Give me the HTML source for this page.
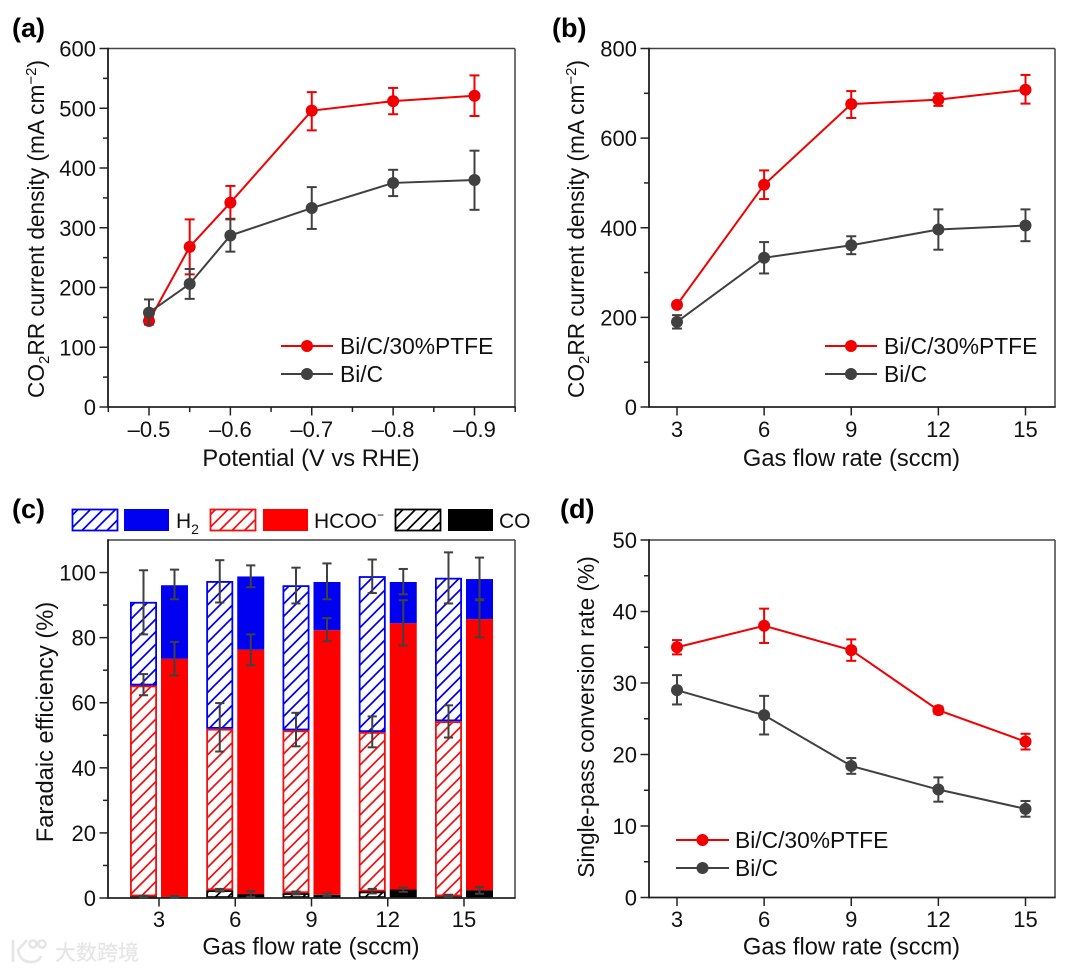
<!DOCTYPE html>
<html lang="en">
<head>
<meta charset="utf-8">
<title>CO2RR performance of Bi/C and Bi/C/30%PTFE</title>
<style>
html,body{margin:0;padding:0;background:#fff;width:1080px;height:972px;overflow:hidden}
svg{display:block;filter:blur(0.35px)}
text{font-family:"Liberation Sans","Noto Sans CJK SC",sans-serif;fill:#111}
.tick{font-size:22px}
.title{font-size:22.7px}
.xtitle{font-size:23.7px}
.legend{font-size:22.8px}
.legend-c{font-size:21px}
.letter{font-size:27px;font-weight:bold;fill:#000}
</style>
</head>
<body>
<svg id="figure" xmlns="http://www.w3.org/2000/svg" width="1080" height="972" viewBox="0 0 1080 972">
  <defs>
    <pattern id="hatch-blue" patternUnits="userSpaceOnUse" width="12.5" height="12.5"><path d="M-3 3L3 -3M0 12.5L12.5 0M9.5 15.5L15.5 9.5" stroke="#0000f0" stroke-width="1.7" fill="none"/></pattern>
    <pattern id="hatch-red" patternUnits="userSpaceOnUse" width="12.5" height="12.5"><path d="M-3 3L3 -3M0 12.5L12.5 0M9.5 15.5L15.5 9.5" stroke="#f01010" stroke-width="1.7" fill="none"/></pattern>
    <pattern id="hatch-black" patternUnits="userSpaceOnUse" width="12.5" height="12.5"><path d="M-3 3L3 -3M0 12.5L12.5 0M9.5 15.5L15.5 9.5" stroke="#000" stroke-width="1.7" fill="none"/></pattern>
  </defs>
  <rect width="1080" height="972" fill="#fff"/>

  <g id="panel-a">
    <text class="letter" x="12" y="37">(a)</text>
    <text class="title" transform="translate(44,229) rotate(-90)" text-anchor="middle">CO<tspan font-size="15" dy="5">2</tspan><tspan dy="-5">RR current density (mA cm</tspan><tspan font-size="15" dy="-8">−2</tspan><tspan dy="8">)</tspan></text>
    <text class="xtitle" x="311" y="466" text-anchor="middle">Potential (V vs RHE)</text>
    <text class="legend" x="340" y="354">Bi/C/30%PTFE</text>
    <text class="legend" x="340" y="382">Bi/C</text>
  </g>

  <g id="panel-b">
    <text class="letter" x="552" y="37">(b)</text>
    <text class="title" transform="translate(584,229) rotate(-90)" text-anchor="middle">CO<tspan font-size="15" dy="5">2</tspan><tspan dy="-5">RR current density (mA cm</tspan><tspan font-size="15" dy="-8">−2</tspan><tspan dy="8">)</tspan></text>
    <text class="xtitle" x="851.5" y="466" text-anchor="middle">Gas flow rate (sccm)</text>
    <text class="legend" x="884" y="354">Bi/C/30%PTFE</text>
    <text class="legend" x="884" y="382">Bi/C</text>
  </g>

  <g id="panel-c">
    <text class="letter" x="12" y="518">(c)</text>
    <text class="xtitle" transform="translate(53,722) rotate(-90)" text-anchor="middle">Faradaic efficiency (%)</text>
    <text class="xtitle" x="311" y="954.5" text-anchor="middle">Gas flow rate (sccm)</text>
    <rect x="72.5" y="509.5" width="45" height="21" fill="url(#hatch-blue)" stroke="#0000f0" stroke-width="1.8"/>
    <rect x="124" y="509" width="45" height="22" fill="#0000f0"/>
    <text class="legend-c" x="176" y="528">H<tspan font-size="14" dy="6">2</tspan></text>
    <rect x="210.5" y="509.5" width="45" height="21" fill="url(#hatch-red)" stroke="#f01010" stroke-width="1.8"/>
    <rect x="263" y="509" width="45" height="22" fill="#ff0000"/>
    <text class="legend-c" x="314" y="528">HCOO<tspan font-size="12" dy="-9">−</tspan></text>
    <rect x="395.5" y="509.5" width="45" height="21" fill="url(#hatch-black)" stroke="#000" stroke-width="1.8"/>
    <rect x="448" y="509" width="45" height="22" fill="#000"/>
    <text class="legend-c" x="499" y="528">CO</text>
  </g>

  <g id="panel-d">
    <text class="letter" x="560" y="518">(d)</text>
    <text class="title" transform="translate(594,717) rotate(-90)" text-anchor="middle">Single-pass conversion rate (%)</text>
    <text class="xtitle" x="851.5" y="954.5" text-anchor="middle">Gas flow rate (sccm)</text>
    <text class="legend" x="735" y="848">Bi/C/30%PTFE</text>
    <text class="legend" x="735" y="876">Bi/C</text>
  </g>

  <g id="watermark">
    <g fill="none" stroke="#e6e6e6" stroke-width="2.6">
      <path d="M13 940V962M27 940L18 950Q20 962 31 962Q39 962 41 956"/>
      <circle cx="33" cy="944" r="3.6"/>
      <circle cx="42" cy="944" r="3.6"/>
    </g>
    <text x="55" y="960" font-size="21" style="fill:#e2e2e2;stroke:#eeeeee;stroke-width:.6">大数跨境</text>
  </g>
</svg>

<script>
var RED = '#f00000';
var GRAY = '#404040';

/* Panel (a) */
var aXValues = [0.5, 0.55, 0.6, 0.7, 0.8, 0.9];
var aPtfeValues = [144, 268, 342, 496, 512, 521];
var aPtfeHigh = [150, 314, 370, 527, 534, 555];
var aPtfeLow = [138, 222, 314, 463, 490, 487];
var aBicValues = [158, 206, 287, 333, 375, 380];
var aBicHigh = [180, 231, 315, 368, 397, 429];
var aBicLow = [138, 181, 260, 298, 353, 330];
var aYMajor = [0, 100, 200, 300, 400, 500, 600];
var aYMinor = [50, 150, 250, 350, 450, 550];
var aXMajor = [0.5, 0.6, 0.7, 0.8, 0.9];
var aXMajorLabels = ['–0.5', '–0.6', '–0.7', '–0.8', '–0.9'];
var aXMinor = [0.45, 0.55, 0.65, 0.75, 0.85, 0.95];

/* Panel (b) */
var flowRates = [3, 6, 9, 12, 15];
var bPtfeValues = [228, 496, 676, 686, 708];
var bPtfeHigh = [234, 528, 705, 700, 741];
var bPtfeLow = [222, 464, 645, 672, 677];
var bBicValues = [190, 333, 361, 396, 405];
var bBicHigh = [205, 368, 381, 441, 441];
var bBicLow = [175, 298, 341, 351, 370];
var bYMajor = [0, 200, 400, 600, 800];
var bYMinor = [100, 300, 500, 700];

/* Panel (c): stack tops and error-bar limits, hatched = Bi/C/30%PTFE, solid = Bi/C */
var cHatchCo = [0.5, 2.4, 1.5, 2, 0.5];
var cHatchHcoo = [65.3, 52, 51.5, 51, 54.3];
var cHatchH2 = [91, 97.4, 96.1, 98.9, 98.4];
var cHatchCoHigh = [0.7, 2.8, 2, 2.8, 1];
var cHatchCoLow = [0.2, 2, 1.1, 1.4, 0.3];
var cHatchHcooHigh = [68.8, 59.9, 56.9, 55.8, 59.2];
var cHatchHcooLow = [62.3, 45, 46.6, 46.3, 49.3];
var cHatchH2High = [100.7, 103.8, 101.5, 104, 106.2];
var cHatchH2Low = [81, 90.8, 90.5, 93.7, 90.5];
var cSolidCo = [0.4, 1.2, 1, 2.6, 2.4];
var cSolidHcoo = [73.5, 76.3, 82.3, 84.4, 85.7];
var cSolidH2 = [96.1, 98.8, 97.1, 97.1, 98];
var cSolidCoHigh = [0.6, 2.1, 1.4, 3.2, 3.4];
var cSolidCoLow = [0.2, 0.4, 0.6, 1.9, 1.3];
var cSolidHcooHigh = [78.7, 81, 86, 91.5, 91.8];
var cSolidHcooLow = [68.4, 71.5, 78.9, 77.6, 80.1];
var cSolidH2High = [100.9, 102.2, 102.8, 101.1, 104.6];
var cSolidH2Low = [91.8, 95.5, 91.8, 93.3, 91.5];
var cYMajor = [0, 20, 40, 60, 80, 100];
var cYMinor = [10, 30, 50, 70, 90];

/* Panel (d) */
var dPtfeValues = [35, 38, 34.6, 26.2, 21.8];
var dPtfeHigh = [36, 40.4, 36.1, 26.7, 22.9];
var dPtfeLow = [34, 35.6, 33.1, 25.7, 20.7];
var dBicValues = [29, 25.5, 18.4, 15.1, 12.4];
var dBicHigh = [31.1, 28.2, 19.5, 16.8, 13.5];
var dBicLow = [27, 22.8, 17.3, 13.4, 11.3];
var dYMajor = [0, 10, 20, 30, 40, 50];
var dYMinor = [5, 15, 25, 35, 45];

var SVGNS = 'http://www.w3.org/2000/svg';

function make(parent, tag, attrs, name) {
  var el = document.createElementNS(SVGNS, tag);
  for (var k in attrs) { el.setAttribute(k, attrs[k]); }
  
  
  parent.appendChild(el);
  return el;
}

function scale(d0, d1, r0, r1) {
  return function (v) { return r0 + (v - d0) * (r1 - r0) / (d1 - d0); };
}

function line(parent, x1, y1, x2, y2, color, width, name) {
  return make(parent, 'line', { x1: x1, y1: y1, x2: x2, y2: y2, stroke: color, 'stroke-width': width }, name);
}

function drawFrame(g, box, id) {
  line(g, box.left, box.top, box.right, box.top, '#444', 1.5, 'top-border-' + id);
  line(g, box.right, box.top, box.right, box.bottom, '#444', 1.5, 'right-border-' + id);
  line(g, box.left, box.top - 0.7, box.left, box.bottom + 0.7, '#111', 1.7, 'y-axis-line-' + id);
  line(g, box.left - 0.7, box.bottom, box.right + 0.7, box.bottom, '#222', 1.7, 'x-axis-line-' + id);
}

function drawYAxis(g, box, y, major, minor, id) {
  major.forEach(function (v) {
    line(g, box.left - 8.5, y(v), box.left, y(v), '#222', 1.5, 'y-tick-' + id);
    var t = make(g, 'text', { x: box.left - 12, y: y(v) + 8, 'text-anchor': 'end', 'class': 'tick' }, 'y-tick-label-' + id);
    t.textContent = String(v);
  });
  minor.forEach(function (v) {
    line(g, box.left - 5, y(v), box.left, y(v), '#222', 1.5, 'y-minor-tick-' + id);
  });
}

function drawXAxis(g, box, x, major, labels, minor, id, labelY) {
  major.forEach(function (v, i) {
    line(g, x(v), box.bottom, x(v), box.bottom + 8.5, '#222', 1.5, 'x-tick-' + id);
    var t = make(g, 'text', { x: x(v), y: labelY, 'text-anchor': 'middle', 'class': 'tick' }, 'x-tick-label-' + id);
    t.textContent = labels[i];
  });
  minor.forEach(function (v) {
    line(g, x(v), box.bottom, x(v), box.bottom + 5, '#222', 1.5, 'x-minor-tick-' + id);
  });
}

function errorBar(g, px, yHigh, yLow, color, cap, width, name) {
  line(g, px, yHigh, px, yLow, color, width, name);
  line(g, px - cap, yHigh, px + cap, yHigh, color, width, name + '-cap-high');
  line(g, px - cap, yLow, px + cap, yLow, color, width, name + '-cap-low');
}

function drawSeries(g, x, y, xs, values, high, low, color, id) {
  var pts = xs.map(function (v, i) { return x(v) + ',' + y(values[i]); }).join(' ');
  make(g, 'polyline', { points: pts, fill: 'none', stroke: color, 'stroke-width': 2 }, 'line-' + id);
  xs.forEach(function (v, i) {
    errorBar(g, x(v), y(high[i]), y(low[i]), color, 5, 2, 'error-bar-' + id);
    make(g, 'circle', { cx: x(v), cy: y(values[i]), r: 6, fill: color }, 'point-' + id);
  });
}

function drawLegendKey(g, x1, x2, yPos, color, id) {
  line(g, x1, yPos, x2, yPos, color, 2, 'legend-line-' + id);
  make(g, 'circle', { cx: (x1 + x2) / 2, cy: yPos, r: 6, fill: color }, 'legend-marker-' + id);
}

/* Draw panel (a) */
(function () {
  var g = document.getElementById('panel-a');
  var box = { left: 108, right: 515, top: 48.5, bottom: 407 };
  var x = scale(0.5, 0.9, 149, 474.5);
  var y = scale(0, 600, box.bottom, box.top);
  drawFrame(g, box, 'a');
  drawYAxis(g, box, y, aYMajor, aYMinor, 'a');
  drawXAxis(g, box, x, aXMajor, aXMajorLabels, aXMinor, 'a', 437);
  drawSeries(g, x, y, aXValues, aPtfeValues, aPtfeHigh, aPtfeLow, RED, 'ptfe-a');
  drawSeries(g, x, y, aXValues, aBicValues, aBicHigh, aBicLow, GRAY, 'bic-a');
  drawLegendKey(g, 281, 333, 346, RED, 'ptfe-a');
  drawLegendKey(g, 281, 333, 374, GRAY, 'bic-a');
})();

/* Draw panel (b) */
(function () {
  var g = document.getElementById('panel-b');
  var box = { left: 649, right: 1055, top: 48.5, bottom: 407 };
  var x = scale(3, 15, 677, 1025.5);
  var y = scale(0, 800, box.bottom, box.top);
  drawFrame(g, box, 'b');
  drawYAxis(g, box, y, bYMajor, bYMinor, 'b');
  drawXAxis(g, box, x, flowRates, flowRates.map(String), [], 'b', 437);
  drawSeries(g, x, y, flowRates, bPtfeValues, bPtfeHigh, bPtfeLow, RED, 'ptfe-b');
  drawSeries(g, x, y, flowRates, bBicValues, bBicHigh, bBicLow, GRAY, 'bic-b');
  drawLegendKey(g, 825, 877, 346, RED, 'ptfe-b');
  drawLegendKey(g, 825, 877, 374, GRAY, 'bic-b');
})();

/* Draw panel (c) */
(function () {
  var g = document.getElementById('panel-c');
  var box = { left: 108, right: 515, top: 540, bottom: 898 };
  var x = scale(3, 15, 159, 464);
  var y = scale(0, 110, box.bottom, box.top);
  var BAR = 0.61;
  var BAR_WIDTH = 27;

  function hatched(cx, lo, hi, colorName, color, id) {
    make(g, 'rect', {
      x: cx - BAR_WIDTH / 2 + 0.9, y: y(hi) + 0.9, width: BAR_WIDTH - 1.8,
      height: Math.max(y(lo) - y(hi) - 1.8, 0.5),
      fill: 'url(#hatch-' + colorName + ')', stroke: color, 'stroke-width': 1.8
    }, id);
  }
  function solid(cx, lo, hi, color, id) {
    make(g, 'rect', { x: cx - BAR_WIDTH / 2, y: y(hi), width: BAR_WIDTH, height: y(lo) - y(hi), fill: color }, id);
  }

  flowRates.forEach(function (f, i) {
    var hx = x(f - BAR), sx = x(f + BAR);
    hatched(hx, 0, cHatchCo[i], 'black', '#000', 'bar-co-hatched-' + f);
    hatched(hx, cHatchCo[i], cHatchHcoo[i], 'red', '#f01010', 'bar-hcoo-hatched-' + f);
    hatched(hx, cHatchHcoo[i], cHatchH2[i], 'blue', '#0000f0', 'bar-h2-hatched-' + f);
    solid(sx, 0, cSolidCo[i], '#000', 'bar-co-solid-' + f);
    solid(sx, cSolidCo[i], cSolidHcoo[i], '#ff0000', 'bar-hcoo-solid-' + f);
    solid(sx, cSolidHcoo[i], cSolidH2[i], '#0000f0', 'bar-h2-solid-' + f);
  });
  drawFrame(g, box, 'c');
  drawYAxis(g, box, y, cYMajor, cYMinor, 'c');
  drawXAxis(g, box, x, flowRates, flowRates.map(String), [], 'c', 927);
  flowRates.forEach(function (f, i) {
    var hx = x(f - BAR), sx = x(f + BAR);
    errorBar(g, hx, y(cHatchH2High[i]), y(cHatchH2Low[i]), GRAY, 4.6, 2, 'error-bar-h2-hatched-' + f);
    errorBar(g, hx, y(cHatchHcooHigh[i]), y(cHatchHcooLow[i]), GRAY, 4.6, 2, 'error-bar-hcoo-hatched-' + f);
    errorBar(g, hx, y(cHatchCoHigh[i]), y(cHatchCoLow[i]), GRAY, 4.6, 2, 'error-bar-co-hatched-' + f);
    errorBar(g, sx, y(cSolidH2High[i]), y(cSolidH2Low[i]), GRAY, 4.6, 2, 'error-bar-h2-solid-' + f);
    errorBar(g, sx, y(cSolidHcooHigh[i]), y(cSolidHcooLow[i]), GRAY, 4.6, 2, 'error-bar-hcoo-solid-' + f);
    errorBar(g, sx, y(cSolidCoHigh[i]), y(cSolidCoLow[i]), GRAY, 4.6, 2, 'error-bar-co-solid-' + f);
  });
})();

/* Draw panel (d) */
(function () {
  var g = document.getElementById('panel-d');
  var box = { left: 649, right: 1055, top: 540, bottom: 897.5 };
  var x = scale(3, 15, 677, 1025.5);
  var y = scale(0, 50, box.bottom, box.top);
  drawFrame(g, box, 'd');
  drawYAxis(g, box, y, dYMajor, dYMinor, 'd');
  drawXAxis(g, box, x, flowRates, flowRates.map(String), [], 'd', 927);
  drawSeries(g, x, y, flowRates, dPtfeValues, dPtfeHigh, dPtfeLow, RED, 'ptfe-d');
  drawSeries(g, x, y, flowRates, dBicValues, dBicHigh, dBicLow, GRAY, 'bic-d');
  drawLegendKey(g, 676, 729, 840, RED, 'ptfe-d');
  drawLegendKey(g, 676, 729, 868, GRAY, 'bic-d');
})();
</script>
</body>
</html>
